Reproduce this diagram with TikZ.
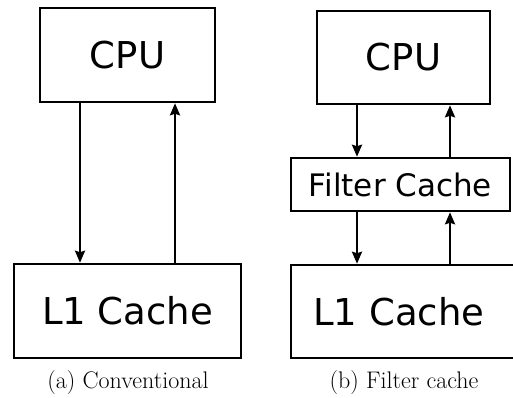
\documentclass[tikz,border=0pt]{standalone}
\usepackage{fontspec}
\newfontfamily\dv{DejaVu Sans}
\usetikzlibrary{arrows.meta}
\begin{document}
\begin{tikzpicture}[x=1pt,y=1pt,
  box/.style={draw,line width=2.5pt,inner sep=0pt,font=\dv\fontsize{37}{40}\selectfont},
  arr/.style={line width=2.2pt,-{Stealth[length=12pt,width=10pt,inset=1.5pt]}},
  capt/.style={anchor=base,inner sep=0pt,font=\fontsize{24}{28}\selectfont}]
\useasboundingbox (0,0) rectangle (513,397);
\clip (0,0) rectangle (513,397);
% (a)
\node[box,minimum width=175pt,minimum height=94pt] (cpuA) at (127.5,342) {CPU};
\node[box,minimum width=227pt,minimum height=94pt] (l1A) at (127.5,86) {L1 Cache};
\coordinate (xa1) at (80,0);
\coordinate (xa2) at (175,0);
\draw[arr] (cpuA.south -| xa1) -- (l1A.north -| xa1);
\draw[arr] (l1A.north -| xa2) -- (cpuA.south -| xa2);
\node[capt] (capA) at (128,9) {(a) Conventional};
% (b)
\node[box,minimum width=173pt,minimum height=93pt] (cpuB) at (403.5,339.5) {CPU};
\node[box,minimum width=219pt,minimum height=53pt,font=\dv\fontsize{31}{34}\selectfont] (fc) at (400.5,212.5) {Filter Cache};
\node[box,minimum width=227pt,minimum height=93pt,text width=227pt,align=left] (l1B) at (404.5,85.5) {\hspace*{22pt}L1 Cache};
\coordinate (xb1) at (357,0);
\coordinate (xb2) at (450,0);
\draw[arr] (cpuB.south -| xb1) -- (fc.north -| xb1);
\draw[arr] (fc.north -| xb2) -- (cpuB.south -| xb2);
\draw[arr] (fc.south -| xb1) -- (l1B.north -| xb1);
\draw[arr] (l1B.north -| xb2) -- (fc.south -| xb2);
\node[capt] (capB) at (404,9) {(b) Filter cache};
\end{tikzpicture}
\end{document}
